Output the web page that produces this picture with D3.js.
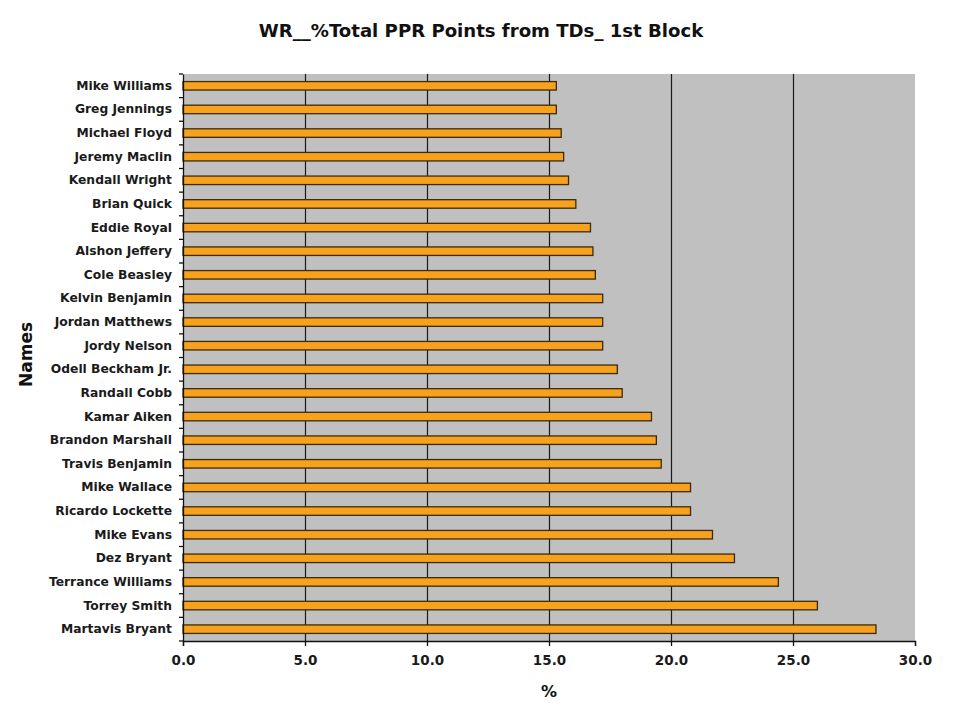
<!DOCTYPE html>
<html>
<head>
<meta charset="utf-8">
<script src="https://cdn.jsdelivr.net/npm/d3@7"></script>
<style>
  html, body { margin: 0; padding: 0; background: #fff; }
  svg { display: block; font-family: "DejaVu Sans", Arial, sans-serif; }
</style>
</head>
<body>
<svg id="chart" width="960" height="720"></svg>
<script>
const names = [
  "Mike Williams", "Greg Jennings", "Michael Floyd", "Jeremy Maclin", "Kendall Wright",
  "Brian Quick", "Eddie Royal", "Alshon Jeffery", "Cole Beasley", "Kelvin Benjamin",
  "Jordan Matthews", "Jordy Nelson", "Odell Beckham Jr.", "Randall Cobb", "Kamar Aiken",
  "Brandon Marshall", "Travis Benjamin", "Mike Wallace", "Ricardo Lockette", "Mike Evans",
  "Dez Bryant", "Terrance Williams", "Torrey Smith", "Martavis Bryant"
];
const pctValues = [
  15.3, 15.3, 15.5, 15.6, 15.8,
  16.1, 16.7, 16.8, 16.9, 17.2,
  17.2, 17.2, 17.8, 18.0, 19.2,
  19.4, 19.6, 20.8, 20.8, 21.7,
  22.6, 24.4, 26.0, 28.4
];
const xTicks = [0, 5, 10, 15, 20, 25, 30];
const titleText = "WR__%Total PPR Points from TDs_ 1st Block";
const xTitle = "%";
const yTitle = "Names";

const FONT = "'DejaVu Sans', Arial, sans-serif";
const svg = d3.select("#chart");
const margin = { left: 183, right: 45, top: 74, bottom: 79 };
const W = 960, H = 720;
const pw = W - margin.left - margin.right;
const ph = H - margin.top - margin.bottom;

const x = d3.scaleLinear().domain([0, 30]).range([0, pw]);
const y = d3.scaleBand().domain(names).range([0, ph]).paddingInner(0.64).paddingOuter(0.32);

const g = svg.append("g").attr("transform", `translate(${margin.left},${margin.top})`);

// plot background
g.append("rect").attr("x", 0).attr("y", 0).attr("width", pw).attr("height", ph).attr("fill", "#c0c0c0");

// gridlines
g.selectAll("line.grid").data(xTicks.filter(t => t > 0 && t < 30)).join("line")
  .attr("class", "grid")
  .attr("x1", d => Math.round(x(d)) + 0.5).attr("x2", d => Math.round(x(d)) + 0.5)
  .attr("y1", 0).attr("y2", ph)
  .attr("stroke", "#1a1a1a").attr("stroke-width", 1.2);

// bars
g.selectAll("rect.bar").data(names).join("rect")
  .attr("class", "bar")
  .attr("x", 0)
  .attr("y", d => y(d))
  .attr("width", (d, i) => x(pctValues[i]))
  .attr("height", y.bandwidth())
  .attr("fill", "#f8a11c")
  .attr("stroke", "#3b2a0c")
  .attr("stroke-width", 1.3);

// x axis
const xAxis = d3.axisBottom(x).tickValues(xTicks).tickFormat(d3.format(".1f")).tickSize(5).tickPadding(9);
const gx = g.append("g").attr("transform", `translate(0,${ph})`).call(xAxis);
gx.select(".domain").attr("stroke", "#111").attr("stroke-width", 1.3);
gx.selectAll(".tick line").attr("stroke", "#111").attr("stroke-width", 1.3);
gx.selectAll(".tick text").attr("font-size", 13.5).attr("font-weight", "bold").attr("fill", "#1a1a1a")
  .attr("font-family", FONT);

// y axis
const yAxis = d3.axisLeft(y).tickSize(0).tickPadding(11);
const gy = g.append("g").call(yAxis);
gy.select(".domain").attr("stroke", "#111").attr("stroke-width", 1.3);
gy.selectAll(".tick text").attr("font-size", 12.3).attr("font-weight", "bold").attr("fill", "#1a1a1a")
  .attr("font-family", FONT);
// category boundary tick marks
const step = y.step();
g.selectAll("line.ytick").data(d3.range(names.length + 1)).join("line")
  .attr("class", "ytick")
  .attr("x1", -4).attr("x2", 0)
  .attr("y1", d => d * step).attr("y2", d => d * step)
  .attr("stroke", "#111").attr("stroke-width", 1.3);

// titles
svg.append("text").attr("x", 481).attr("y", 37).attr("text-anchor", "middle")
  .attr("font-size", 18.1).attr("font-weight", "bold").attr("fill", "#111").text(titleText);
svg.append("text").attr("x", margin.left + pw / 2).attr("y", 697).attr("text-anchor", "middle")
  .attr("font-size", 16).attr("font-weight", "bold").attr("fill", "#111").text(xTitle);
svg.append("text").attr("transform", `translate(32,${margin.top + ph / 2 - 3}) rotate(-90)`)
  .attr("text-anchor", "middle")
  .attr("font-size", 17).attr("font-weight", "bold").attr("fill", "#111").text(yTitle);
</script>
</body>
</html>
